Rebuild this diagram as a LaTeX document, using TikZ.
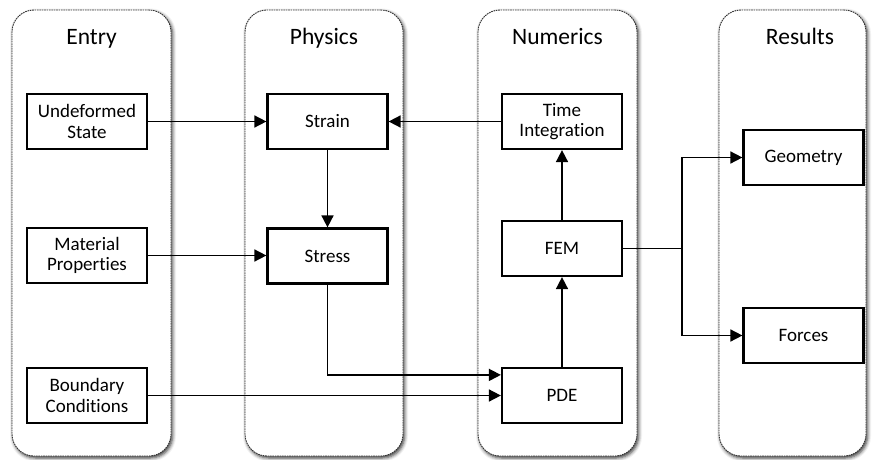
\documentclass[tikz,border=0pt]{standalone}
\usepackage{fontspec}
\setmainfont{Carlito}[Ligatures=NoCommon]
\usetikzlibrary{arrows.meta,shadows.blur,calc}

\begin{document}
\begin{tikzpicture}[x=1pt,y=-1pt,
  lane/.style={draw=black!80, dash pattern=on 1.6pt off 0.8pt, line width=0.9pt,
    rounded corners=22pt, fill=white, inner sep=0pt,
    blur shadow={shadow xshift=1.5pt, shadow yshift=-2pt,
      shadow blur radius=3.5pt, shadow opacity=80}},
  title/.style={anchor=base, font=\fontsize{23.5}{26}\selectfont},
  block/.style={draw, line width=2.2pt, fill=white, minimum width=120pt,
    minimum height=55pt, inner sep=0pt, align=center,
    font=\fontsize{19}{20.7}\selectfont},
  flow/.style={line width=1.6pt, -{Triangle[length=12pt,width=12pt]}},
  link/.style={line width=1.6pt}
]
\useasboundingbox (0,0) rectangle (872,460);

% swim lanes
\node[lane, minimum width=159pt, minimum height=446pt] (entry)    at (91.5,233) {};
\node[lane, minimum width=158pt, minimum height=446pt] (physics)  at (324,233) {};
\node[lane, minimum width=159pt, minimum height=446pt] (numerics) at (557.5,233) {};
\node[lane, minimum width=147pt, minimum height=446pt] (results)  at (792.5,233) {};

\node[title] (tentry)    at (91.5,45) {Entry};
\node[title] (tphysics)  at (324,45)  {Physics};
\node[title] (tnumerics) at (557.5,45) {Numerics};
\node[title] (tresults)  at (800,45)  {Results};

% blocks
\node[block] (undef) at (87,121.5)    {Undeformed\\State};
\node[block] (mat)   at (87,255.5)    {Material\\Properties};
\node[block] (bc)    at (87,395.5)    {Boundary\\Conditions};
\node[block] (strain) at (327.5,121.5) {Strain};
\node[block] (stress) at (327.5,256)   {Stress};
\node[block] (time)  at (562,121.5)   {Time\\Integration};
\node[block] (fem)   at (562,248.5)   {FEM};
\node[block] (pde)   at (562,395.5)   {PDE};
\node[block] (geo)   at (803.5,157.5) {Geometry};
\node[block] (forces) at (803.5,335.5) {Forces};

% connectors
\draw[flow] (undef) -- (strain);
\draw[flow] (time) -- (strain);
\draw[flow] (strain) -- (stress);
\draw[flow] (mat.east) -- (stress.west |- mat.east);
\draw[flow] (stress.south) |- ([yshift=-8pt]pde.north west);
\draw[flow] (bc.east) -- (pde.west);
\draw[flow] (pde) -- (fem);
\draw[flow] (fem) -- (time);
\coordinate (split) at (682,248.5);
\draw[link] (fem.east) -- (split);
\draw[flow] (split) |- (geo.west);
\draw[flow] (split) |- (forces.west);
\end{tikzpicture}
\end{document}
